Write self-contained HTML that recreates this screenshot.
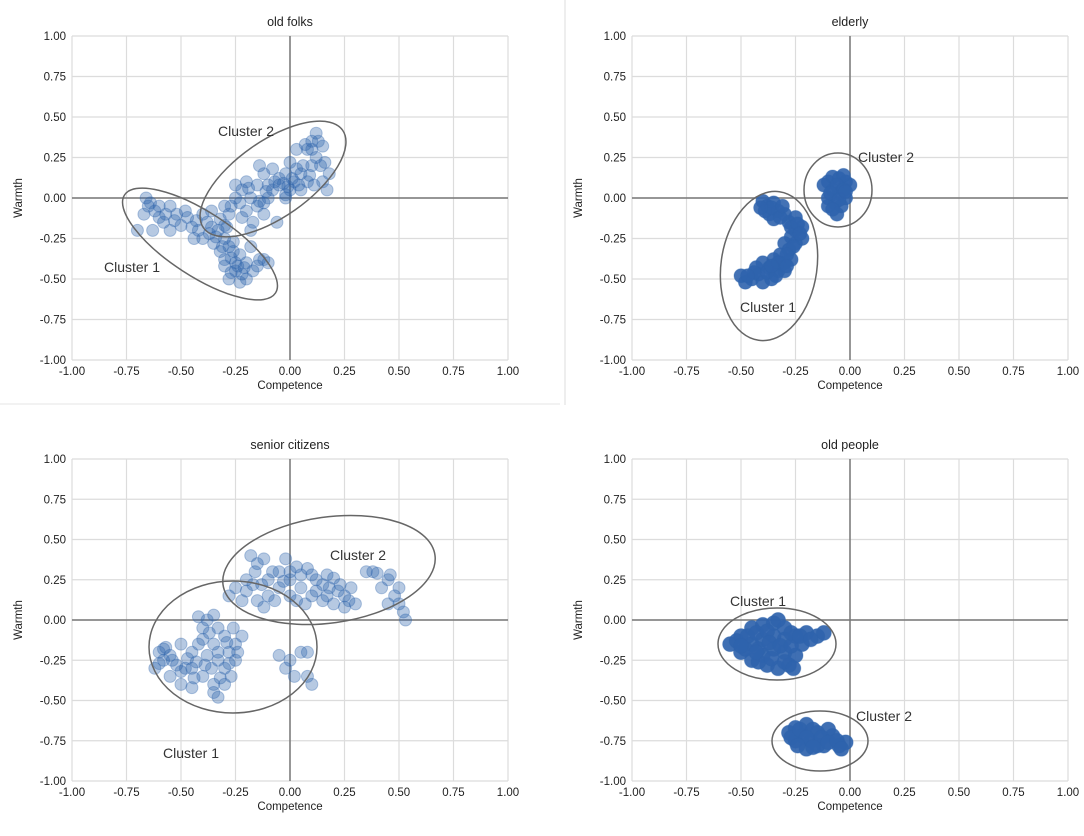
<!DOCTYPE html>
<html><head><meta charset="utf-8"><style>
body{margin:0;background:#fff;}
svg{font-family:"Liberation Sans",sans-serif;}
</style></head><body>
<svg id="chart" width="1084" height="831">
<line x1="565" y1="0" x2="565" y2="405" stroke="#ddd"/>
<line x1="0" y1="404" x2="560" y2="404" stroke="#e6e6e6"/>
</svg>
<script>
const ticks=[-1,-0.75,-0.5,-0.25,0,0.25,0.5,0.75,1];
const tickLabels=["-1.00","-0.75","-0.50","-0.25","0.00","0.25","0.50","0.75","1.00"];
const titles=["old folks","elderly","senior citizens","old people"];
const pointsOldFolks="-0.66,0;-0.65,-0.05;-0.67,-0.1;-0.62,-0.08;-0.6,-0.12;-0.7,-0.2;-0.63,-0.2;-0.58,-0.15;-0.55,-0.05;-0.52,-0.1;-0.5,-0.17;-0.55,-0.2;-0.47,-0.12;-0.45,-0.18;-0.42,-0.2;-0.4,-0.1;-0.38,-0.15;-0.37,-0.22;-0.33,-0.2;-0.35,-0.28;-0.3,-0.25;-0.28,-0.3;-0.32,-0.33;-0.27,-0.37;-0.3,-0.42;-0.25,-0.45;-0.28,-0.5;-0.22,-0.47;-0.2,-0.4;-0.23,-0.35;-0.18,-0.3;-0.15,-0.42;-0.12,-0.38;-0.1,-0.4;-0.26,-0.27;-0.4,-0.25;-0.36,-0.08;-0.2,-0.5;-0.24,-0.42;-0.3,-0.38;-0.3,-0.05;-0.28,-0.1;-0.25,0;-0.22,0.05;-0.2,0.1;-0.18,0;-0.15,-0.05;-0.12,-0.1;-0.22,-0.12;-0.17,-0.15;-0.1,0;-0.08,0.05;-0.05,0.08;-0.12,0.15;-0.08,0.18;-0.05,0.12;-0.02,0;0,0.05;0.02,0.1;0.05,0.15;-0.02,0.15;0,0.22;0.05,0.05;0.08,0.1;0.1,0.2;0.12,0.25;0.1,0.3;0.13,0.35;0.15,0.32;0.12,0.4;0.08,0.3;0.03,0.3;0.15,0.1;0.18,0.15;0.17,0.05;-0.14,0.2;-0.25,0.08;-0.18,-0.2;-0.06,-0.15;-0.02,0.02;-0.64,-0.03;-0.6,-0.05;-0.57,-0.1;-0.48,-0.08;-0.43,-0.14;-0.36,-0.18;-0.34,-0.24;-0.31,-0.3;-0.26,-0.33;-0.25,-0.4;-0.21,-0.43;-0.17,-0.45;-0.14,-0.38;-0.27,-0.46;-0.23,-0.52;-0.32,-0.13;-0.29,-0.18;-0.27,-0.05;-0.23,-0.03;-0.19,0.06;-0.15,0.08;-0.11,0.04;-0.07,0.1;-0.03,0.09;0.01,0.12;0.04,0.08;0.06,0.2;0.03,0.18;-0.01,0.07;0.09,0.14;0.11,0.08;0.14,0.2;0.16,0.22;0.1,0.35;0.07,0.33;-0.1,0.08;-0.14,-0.02;-0.2,-0.08;-0.12,-0.03;-0.3,-0.17;-0.44,-0.25;-0.53,-0.14";
const pointsElderly="-0.4,-0.02;-0.38,-0.05;-0.35,-0.03;-0.33,-0.08;-0.37,-0.1;-0.35,-0.13;-0.3,-0.1;-0.28,-0.15;-0.25,-0.12;-0.22,-0.18;-0.25,-0.2;-0.27,-0.24;-0.3,-0.28;-0.25,-0.28;-0.28,-0.32;-0.32,-0.35;-0.35,-0.38;-0.4,-0.4;-0.37,-0.43;-0.3,-0.4;-0.33,-0.45;-0.42,-0.47;-0.45,-0.5;-0.48,-0.52;-0.5,-0.48;-0.4,-0.52;-0.36,-0.5;-0.3,-0.45;-0.27,-0.38;-0.39,-0.08;-0.22,-0.25;-0.43,-0.43;-0.36,-0.06;-0.32,-0.12;-0.27,-0.18;-0.24,-0.16;-0.23,-0.22;-0.26,-0.3;-0.29,-0.35;-0.33,-0.4;-0.38,-0.46;-0.34,-0.48;-0.44,-0.46;-0.47,-0.48;-0.29,-0.42;-0.36,-0.42;-0.31,-0.05;-0.41,-0.06;-0.1,0.1;-0.08,0.13;-0.05,0.12;-0.02,0.1;-0.08,0.05;-0.05,0.03;-0.1,0;-0.07,-0.03;-0.04,-0.05;-0.06,-0.1;-0.02,0;-0.1,-0.05;0,0.08;-0.12,0.08;-0.03,0.14;-0.06,0.08;-0.03,0.05;-0.09,0.03;-0.05,-0.01;-0.08,-0.07;-0.02,0.04";
const pointsSenior="-0.6,-0.2;-0.58,-0.25;-0.62,-0.3;-0.55,-0.22;-0.52,-0.28;-0.55,-0.35;-0.5,-0.4;-0.48,-0.3;-0.45,-0.2;-0.42,-0.15;-0.4,-0.05;-0.42,0.02;-0.38,0;-0.35,0.03;-0.33,-0.05;-0.3,-0.1;-0.35,-0.15;-0.38,-0.22;-0.33,-0.25;-0.3,-0.3;-0.28,-0.2;-0.25,-0.15;-0.27,-0.35;-0.3,-0.4;-0.35,-0.45;-0.33,-0.48;-0.4,-0.35;-0.45,-0.42;-0.5,-0.15;-0.57,-0.17;-0.25,-0.25;-0.22,-0.1;-0.45,-0.3;-0.58,-0.18;-0.54,-0.25;-0.5,-0.32;-0.47,-0.24;-0.43,-0.26;-0.4,-0.12;-0.37,-0.08;-0.36,-0.3;-0.32,-0.36;-0.28,-0.27;-0.29,-0.14;-0.33,-0.2;-0.39,-0.28;-0.44,-0.36;-0.35,-0.4;-0.24,-0.2;-0.26,-0.05;-0.6,-0.27;-0.05,-0.22;0,-0.25;0.05,-0.2;0.08,-0.2;-0.02,-0.3;0.02,-0.35;0.08,-0.35;0.1,-0.4;-0.18,0.4;-0.15,0.35;-0.12,0.38;-0.05,0.3;-0.02,0.38;0,0.3;0.05,0.28;0.08,0.32;0.12,0.25;0.15,0.22;0.18,0.2;0.2,0.26;0.22,0.18;0.25,0.15;0.28,0.2;0.3,0.1;0.25,0.08;0.2,0.1;0.15,0.12;0.1,0.15;0.05,0.2;0,0.15;-0.05,0.2;-0.1,0.15;-0.15,0.12;-0.2,0.18;-0.25,0.2;-0.28,0.15;-0.2,0.25;-0.1,0.25;0,0.25;0.07,0.1;0.35,0.3;0.4,0.29;0.45,0.25;0.42,0.2;0.48,0.15;0.5,0.1;0.52,0.05;0.53,0;0.46,0.28;0.38,0.3;0.5,0.2;0.45,0.1;-0.16,0.3;-0.13,0.22;-0.08,0.3;-0.03,0.24;0.03,0.33;0.1,0.28;0.17,0.28;0.23,0.22;0.12,0.18;0.03,0.12;-0.07,0.12;-0.17,0.22;-0.22,0.12;-0.12,0.08;0.17,0.15;0.27,0.12";
const pointsOldPeople="-0.55,-0.15;-0.5,-0.1;-0.5,-0.2;-0.45,-0.05;-0.45,-0.15;-0.45,-0.25;-0.4,-0.03;-0.4,-0.12;-0.4,-0.22;-0.38,-0.28;-0.35,-0.02;-0.35,-0.1;-0.35,-0.18;-0.3,-0.05;-0.3,-0.12;-0.3,-0.2;-0.28,-0.28;-0.25,-0.22;-0.25,-0.1;-0.2,-0.08;-0.15,-0.1;-0.12,-0.08;-0.33,-0.3;-0.42,-0.18;-0.48,-0.18;-0.22,-0.15;-0.52,-0.13;-0.47,-0.1;-0.43,-0.08;-0.38,-0.07;-0.33,0;-0.37,-0.14;-0.32,-0.16;-0.27,-0.16;-0.27,-0.08;-0.23,-0.1;-0.18,-0.12;-0.42,-0.26;-0.36,-0.24;-0.3,-0.26;-0.26,-0.3;-0.5,-0.16;-0.43,-0.2;-0.28,-0.7;-0.25,-0.67;-0.22,-0.72;-0.2,-0.65;-0.18,-0.75;-0.15,-0.7;-0.12,-0.78;-0.08,-0.72;-0.05,-0.78;-0.02,-0.76;-0.25,-0.75;-0.15,-0.78;-0.1,-0.68;-0.2,-0.8;-0.27,-0.73;-0.23,-0.68;-0.17,-0.68;-0.13,-0.73;-0.1,-0.76;-0.06,-0.75;-0.2,-0.73;-0.17,-0.79;-0.24,-0.78;-0.04,-0.8";
const pointSets=[pointsOldFolks,pointsElderly,pointsSenior,pointsOldPeople];
const panels=[
 {x0:72,x1:508,y0:36,y1:360,op:0.35,r:6,
  ell:[[273,179,85,38,-35],[200,244,90,32,33]],lab:[["Cluster 2",218,136],["Cluster 1",104,272]]},
 {x0:632,x1:1068,y0:36,y1:360,op:0.9,r:7,
  ell:[[769,266,48,75,8],[838,190,34,37,0]],lab:[["Cluster 2",858,162],["Cluster 1",740,312]]},
 {x0:72,x1:508,y0:459,y1:781,op:0.35,r:6,
  ell:[[329,570,107,53,-8],[233,647,84,66,0]],lab:[["Cluster 2",330,560],["Cluster 1",163,758]]},
 {x0:632,x1:1068,y0:459,y1:781,op:0.92,r:7.5,
  ell:[[777,644,59,36,0],[820,741,48,30,0]],lab:[["Cluster 1",730,606],["Cluster 2",856,721]]}];
const svg=document.getElementById('chart');
const NS='http://www.w3.org/2000/svg';
function mk(t,a,p){const e=document.createElementNS(NS,t);for(const k in a)e.setAttribute(k,a[k]);(p||svg).appendChild(e);return e;}
panels.forEach((p,i)=>{
 const g=mk('g',{});
 
 
 const sx=v=>p.x0+(v+1)/2*(p.x1-p.x0);
 const sy=v=>p.y1-(v+1)/2*(p.y1-p.y0);
 ticks.forEach((t,j)=>{
  const gl=mk('line',{x1:sx(t),x2:sx(t),y1:p.y0,y2:p.y1,stroke:'#dcdcdc','stroke-width':1.2},g);
  
  
  const hl=mk('line',{x1:p.x0,x2:p.x1,y1:sy(t),y2:sy(t),stroke:'#dcdcdc','stroke-width':1.2},g);
  
  
  const xt=mk('text',{x:sx(t),y:p.y1+15,'font-size':11.5,'text-anchor':'middle',fill:'#222'},g);xt.textContent=tickLabels[j];
  
  
  const yt=mk('text',{x:p.x0-6,y:sy(t)+4,'font-size':11.5,'text-anchor':'end',fill:'#222'},g);yt.textContent=tickLabels[j];
  
  
 });
 const za=mk('line',{x1:sx(0),x2:sx(0),y1:p.y0,y2:p.y1,stroke:'#777','stroke-width':1.5},g);
 
 
 const zb=mk('line',{x1:p.x0,x2:p.x1,y1:sy(0),y2:sy(0),stroke:'#777','stroke-width':1.5},g);
 
 
 pointSets[i].split(';').forEach(s=>{const [a,b]=s.split(',').map(Number);
  const c=mk('circle',{cx:sx(a),cy:sy(b),r:p.r,fill:'#2f63ad','fill-opacity':p.op,stroke:'#2f63ad','stroke-opacity':0.35},g);
  
  
 });
 p.ell.forEach(e=>{const el=mk('ellipse',{cx:e[0],cy:e[1],rx:e[2],ry:e[3],transform:`rotate(${e[4]} ${e[0]} ${e[1]})`,fill:'none',stroke:'#666','stroke-width':1.5},g);
  
  });
 p.lab.forEach(l=>{const t=mk('text',{x:l[1],y:l[2],'font-size':14,fill:'#333'},g);t.textContent=l[0];
  
  });
 const ti=mk('text',{x:(p.x0+p.x1)/2,y:p.y0-10,'font-size':12.5,'text-anchor':'middle',fill:'#222'},g);ti.textContent=titles[i];
 
 
 const xl=mk('text',{x:(p.x0+p.x1)/2,y:p.y1+29,'font-size':11.5,'text-anchor':'middle',fill:'#222'},g);xl.textContent='Competence';
 
 
 const cy=(p.y0+p.y1)/2,cx=p.x0-50;
 const yl=mk('text',{x:cx,y:cy,'font-size':11.5,'text-anchor':'middle',fill:'#222',transform:`rotate(-90 ${cx} ${cy})`},g);yl.textContent='Warmth';
 
 
});
</script>
</body></html>
